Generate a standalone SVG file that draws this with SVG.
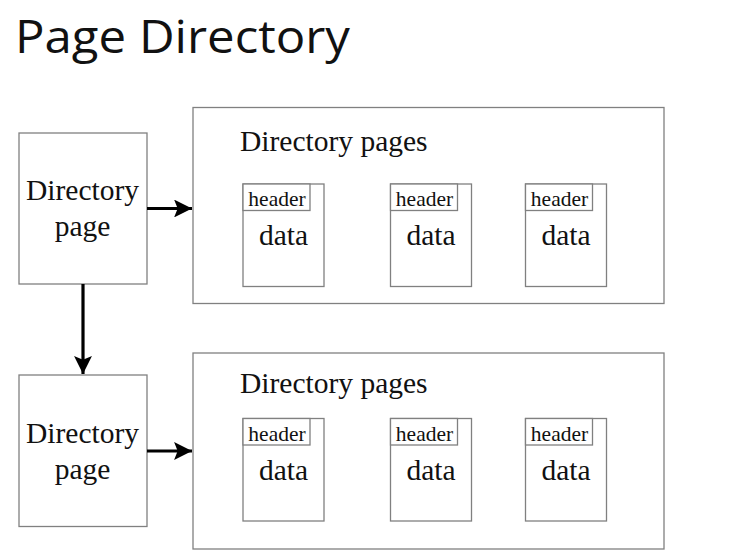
<svg xmlns="http://www.w3.org/2000/svg" width="730" height="555" viewBox="0 0 730 555">
<style>
.box{fill:#fff;stroke:#808080;stroke-width:1.3}
.serif{font-family:"Liberation Serif","Times New Roman",serif;fill:#111}
.big{font-size:29.5px}
.hdr{font-size:21.5px}
.title{font-family:"Open Sans","Noto Sans",sans-serif;font-size:45px;fill:#111}
.conn{stroke:#000;stroke-width:3.2;fill:none}
</style>
<defs>
<marker id="ah" viewBox="0 0 10 10" refX="10" refY="5" markerWidth="6" markerHeight="5.6" orient="auto" markerUnits="strokeWidth">
<path d="M0,0 L10,5 L0,10 L2,5 Z" fill="#000"/>
</marker>
<g id="page">
<rect class="box" x="0" y="0" width="81" height="102.5"/>
<rect class="box" x="0" y="0" width="67" height="26.5"/>
<text class="serif hdr" x="34" y="22" text-anchor="middle">header</text>
<text class="serif big" x="40.5" y="61" text-anchor="middle">data</text>
</g>
</defs>
<rect width="730" height="555" fill="#fff"/>
<text id="title" class="title" x="15" y="53" textLength="335" lengthAdjust="spacingAndGlyphs">Page Directory</text>

<g id="dirpage1">
<rect class="box" x="19" y="133" width="128" height="151"/>
<text class="serif big" x="82.5" y="200" text-anchor="middle">Directory</text>
<text class="serif big" x="82.5" y="236" text-anchor="middle">page</text>
</g>
<g id="dirpages1">
<rect class="box" x="193" y="107.5" width="471" height="196"/>
<text class="serif big" x="240" y="151">Directory pages</text>
<use href="#page" x="243" y="184"/>
<use href="#page" x="390.5" y="184"/>
<use href="#page" x="525.5" y="184"/>
</g>

<g id="dirpage2">
<rect class="box" x="19" y="375" width="128" height="151.5"/>
<text class="serif big" x="82.5" y="443" text-anchor="middle">Directory</text>
<text class="serif big" x="82.5" y="479" text-anchor="middle">page</text>
</g>
<g id="dirpages2">
<rect class="box" x="193" y="353" width="471" height="196"/>
<text class="serif big" x="240" y="393">Directory pages</text>
<use href="#page" x="243" y="418.5"/>
<use href="#page" x="390.5" y="418.5"/>
<use href="#page" x="525.5" y="418.5"/>
</g>

<g id="connectors">
<line class="conn" x1="147" y1="208.5" x2="192" y2="208.5" marker-end="url(#ah)"/>
<line class="conn" x1="83" y1="284" x2="83" y2="374" marker-end="url(#ah)"/>
<line class="conn" x1="147" y1="451" x2="192" y2="451" marker-end="url(#ah)"/>
</g>
</svg>
